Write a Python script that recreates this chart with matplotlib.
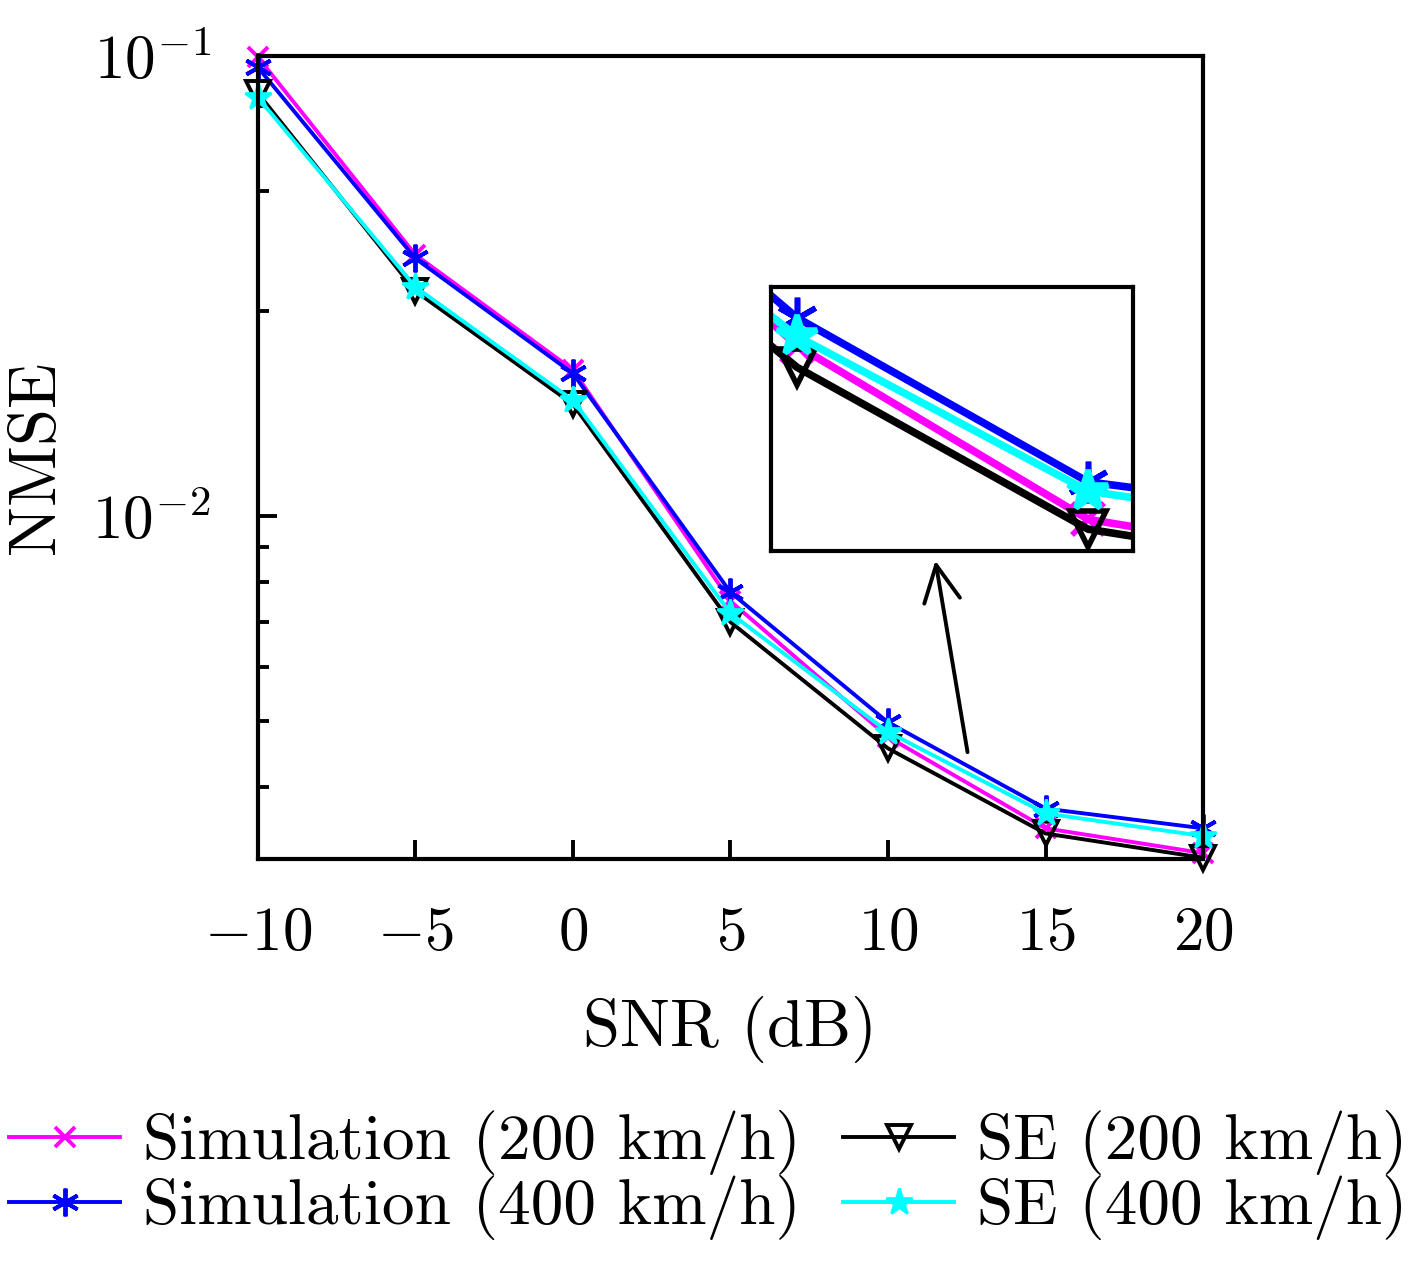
import matplotlib
matplotlib.use("Agg")
import matplotlib.pyplot as plt
import numpy as np

plt.rcParams['font.family'] = 'serif'
plt.rcParams['font.serif'] = ['cmr10', 'DejaVu Serif']
plt.rcParams['mathtext.fontset'] = 'cm'
plt.rcParams['axes.formatter.use_mathtext'] = True

snr = [-10, -5, 0, 5, 10, 15, 20]
sim200 = [0.0472, 0.0242, 0.0164, 0.00750, 0.00474, 0.00348, 0.00320]
sim400 = [0.0456, 0.0239, 0.0162, 0.00773, 0.00498, 0.00372, 0.00348]
se200 = [0.0418, 0.0214, 0.0146, 0.00699, 0.00456, 0.00342, 0.00315]
se400 = [0.0412, 0.0217, 0.0148, 0.00720, 0.00482, 0.00366, 0.00339]
labels = ['Simulation (200 km/h)', 'Simulation (400 km/h)',
          'SE (200 km/h)', 'SE (400 km/h)']
xticks = [-10, -5, 0, 5, 10, 15, 20]

fig = plt.figure(figsize=(14.17, 12.71), dpi=100)
ax = fig.add_axes([0.182, 0.324, 0.667, 0.632])

styles = [
    dict(color='#FF00FF', marker='x', ms=15, mew=2.8),
    dict(color='#0000FF', marker=(6, 2, 0), ms=20, mew=2.8),
    dict(color='black', marker='v', ms=17, mew=2.8, mfc='none'),
    dict(color='#00FFFF', marker='*', ms=20, mew=2.0),
]
series = [sim200, sim400, se200, se400]
handles = []
for s, st, lab in zip(series, styles, labels):
    h, = ax.plot(snr, s, lw=2.8, label=lab, clip_on=False, **st)
    handles.append(h)

ax.set_yscale('log')
ax.set_xlim(-10, 20)
ymin, ymax = 0.003135, 0.0474
ax.set_ylim(ymin, ymax)
ax.set_xticks(xticks)
ax.set_xticklabels([f'${t}$' for t in xticks])
ax.set_yticks([ymax, 1e-2])
ax.set_yticklabels([r'$10^{-1}$', r'$10^{-2}$'])
ax.set_yticks([k * 1e-3 for k in range(4, 10)] + [2e-2, 3e-2, 4e-2], minor=True)
ax.yaxis.set_minor_formatter(matplotlib.ticker.NullFormatter())
ax.tick_params(axis='both', which='major', direction='in', length=14, width=2.8,
               labelsize=44, pad=34, top=False, right=False)
ax.tick_params(axis='y', which='minor', direction='in', length=8, width=2.8,
               right=False)
for sp in ax.spines.values():
    sp.set_linewidth(3)
ax.set_xlabel('SNR (dB)', fontsize=48, labelpad=25)
ax.set_ylabel('NMSE', fontsize=48, labelpad=18)

ax.annotate('', xy=(11.49, 0.00868), xytext=(12.54, 0.00446),
            arrowprops=dict(arrowstyle='->', lw=2.8, mutation_scale=65, color='black'))

ins = fig.add_axes([0.544, 0.5665, 0.2555, 0.2077])
for s, st in zip(series, styles):
    st2 = dict(st)
    st2['ms'] = st['ms'] * 1.5
    st2['mew'] = 4
    ins.plot(snr, s, lw=5.5, **st2)
ins.set_yscale('log')
ins.set_xlim(9.55, 15.77)
ins.set_ylim(0.00329, 0.00526)
ins.set_xticks([])
ins.set_yticks([])
ins.set_yticks([], minor=True)
for sp in ins.spines.values():
    sp.set_linewidth(3)

fig.legend(handles=handles, loc='lower center', ncol=2, frameon=False,
           fontsize=47, bbox_to_anchor=(0.5, 0.024), handlelength=1.7,
           handletextpad=0.35, columnspacing=0.65, labelspacing=0.0,
           borderaxespad=0.0, borderpad=0.0)

fig.savefig('out.png', dpi=100, facecolor='white')
